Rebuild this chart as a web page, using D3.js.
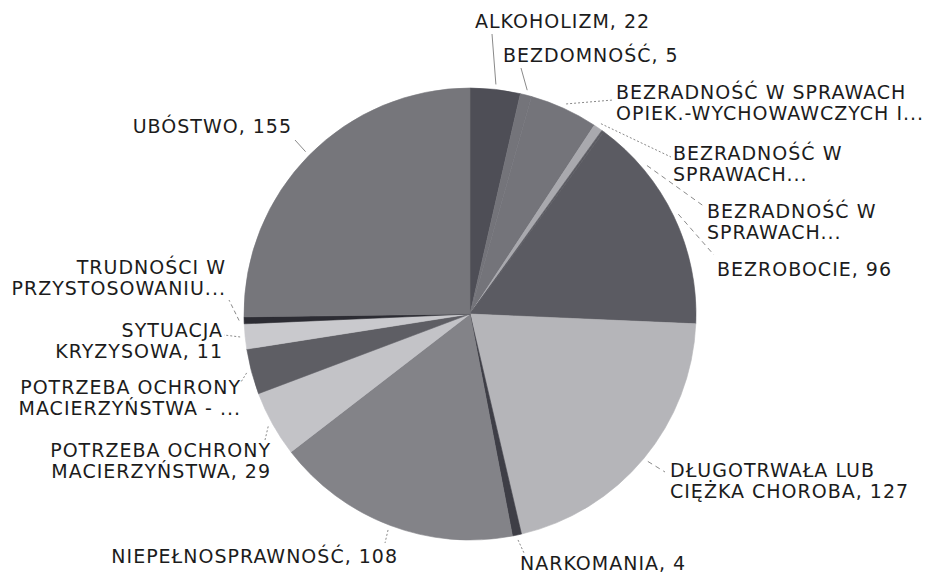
<!DOCTYPE html>
<html>
<head>
<meta charset="utf-8">
<script src="https://cdn.jsdelivr.net/npm/d3@7"></script>
<style>
    body { margin: 0; background: #fff; }
    text { font-family: "DejaVu Sans", sans-serif; font-size: 19px; letter-spacing: 1px; fill: #1c1c1c; }
</style>
</head>
<body>
<div id="chart"></div>
<script>
// categories (label lines as shown on the chart) and values
var categories = [
    ["ALKOHOLIZM, 22"],
    ["BEZDOMNOŚĆ, 5"],
    ["BEZRADNOŚĆ W SPRAWACH", "OPIEK.-WYCHOWAWCZYCH I..."],
    ["BEZRADNOŚĆ W", "SPRAWACH..."],
    ["BEZRADNOŚĆ W", "SPRAWACH..."],
    ["BEZROBOCIE, 96"],
    ["DŁUGOTRWAŁA LUB", "CIĘŻKA CHOROBA, 127"],
    ["NARKOMANIA, 4"],
    ["NIEPEŁNOSPRAWNOŚĆ, 108"],
    ["POTRZEBA OCHRONY", "MACIERZYŃSTWA, 29"],
    ["POTRZEBA OCHRONY", "MACIERZYŃSTWA - ..."],
    ["SYTUACJA", "KRYZYSOWA, 11"],
    ["TRUDNOŚCI W", "PRZYSTOSOWANIU..."],
    ["UBÓSTWO, 155"]
];
var values = [22, 5, 30, 4, 1, 96, 127, 4, 108, 29, 20, 11, 3, 155];

// grey tones of the scanned slices
var colors = ["#4e4e56", "#74747a", "#74747a", "#a9a9ae", "#5b5b62", "#5b5b62", "#b5b5b9",
    "#3e3e46", "#838388", "#c3c3c7", "#5e5e64", "#c9c9cd", "#2c2c33", "#76767b"];

// where each label sits: anchor, x, first baseline, end of leader line, dash style
var labelPos = [
    {anchor: "start", x: 475, y: 28, lx: 492, ly: 34, dash: "none"},
    {anchor: "start", x: 503, y: 62, lx: 521, ly: 68, dash: "none"},
    {anchor: "start", x: 616, y: 99, lx: 613, ly: 100, dash: "2,2"},
    {anchor: "start", x: 673, y: 160, lx: 671, ly: 157, dash: "2,2"},
    {anchor: "start", x: 707, y: 218, lx: 705, ly: 207, dash: "5,4", at: 50},
    {anchor: "start", x: 717, y: 276, lx: 714, ly: 255, dash: "5,4"},
    {anchor: "start", x: 670, y: 477, lx: 665, ly: 472, dash: "5,4"},
    {anchor: "start", x: 520, y: 570, lx: 524, ly: 553, dash: "2,2"},
    {anchor: "end", x: 398, y: 563, lx: 385, ly: 543, dash: "2,2"},
    {anchor: "end", x: 271, y: 457, lx: 265, ly: 440, dash: "2,2"},
    {anchor: "end", x: 241, y: 394, lx: 241, ly: 382, dash: "2,2"},
    {anchor: "end", x: 223, y: 337, lx: 224, ly: 335, dash: "2,2"},
    {anchor: "end", x: 226, y: 274, lx: 229, ly: 300, dash: "4,3"},
    {anchor: "end", x: 292, y: 133, lx: 295, ly: 140, dash: "none"}
];

var width = 930, height = 576;
var cx = 470, cy = 314, radius = 226;

var svg = d3.select("#chart")
    .append("svg")
    .attr("width", width)
    .attr("height", height);

var g = svg.append("g")
    .attr("transform", "translate(" + cx + "," + cy + ")");

var pie = d3.pie()
    .sort(null)
    .value(function (d) { return d; });

var arcs = pie(values);

var arc = d3.arc()
    .innerRadius(0)
    .outerRadius(radius);

// slices (thin stroke in own colour hides the antialiasing seams)
g.selectAll("path.slice")
    .data(arcs)
    .enter()
    .append("path")
    .attr("class", "slice")
    .attr("d", arc)
    .style("fill", function (d, i) { return colors[i]; })
    .style("stroke", function (d, i) { return colors[i]; })
    .style("stroke-width", 0.6)
    .style("stroke-linejoin", "round");

// leader lines, starting just outside the rim
var rim = radius + 5;
var leaderAngle = function (d, i) {
    return labelPos[i].at != null ? labelPos[i].at * Math.PI / 180 : (d.startAngle + d.endAngle) / 2;
};
g.selectAll("line.leader")
    .data(arcs)
    .enter()
    .append("line")
    .attr("class", "leader")
    .attr("x1", function (d, i) { return Math.sin(leaderAngle(d, i)) * rim; })
    .attr("y1", function (d, i) { return -Math.cos(leaderAngle(d, i)) * rim; })
    .attr("x2", function (d, i) { return labelPos[i].lx - cx; })
    .attr("y2", function (d, i) { return labelPos[i].ly - cy; })
    .style("stroke", "#8a8a8a")
    .style("stroke-width", 1)
    .style("stroke-dasharray", function (d, i) { return labelPos[i].dash; });

// labels
var labels = svg.selectAll("text.label")
    .data(categories)
    .enter()
    .append("text")
    .attr("class", "label")
    .attr("text-anchor", function (d, i) { return labelPos[i].anchor; });

labels.each(function (lines, i) {
    var t = d3.select(this);
    lines.forEach(function (line, k) {
        t.append("tspan")
            .attr("x", labelPos[i].x)
            .attr("y", labelPos[i].y + k * 20.5)
            .text(line);
    });
});
</script>
</body>
</html>
